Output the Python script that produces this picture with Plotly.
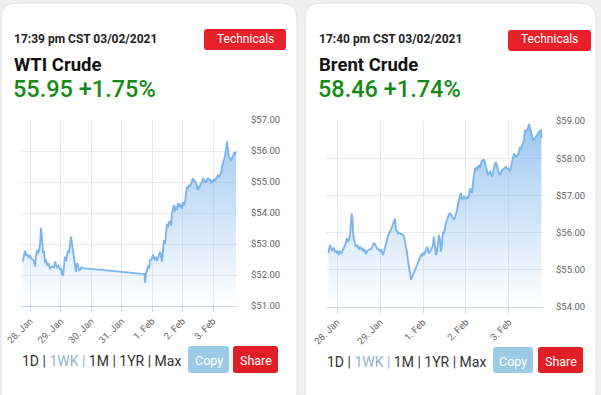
import plotly.graph_objects as go

# ---------------- DATA ----------------
wti_times = [
    "2021-01-27 18:15", "2021-01-27 20:05", "2021-01-27 20:55", "2021-01-27 21:40", "2021-01-27 22:50",
    "2021-01-28 00:00", "2021-01-28 01:10", "2021-01-28 02:20", "2021-01-28 03:10", "2021-01-28 03:55",
    "2021-01-28 04:40", "2021-01-28 05:30", "2021-01-28 06:20", "2021-01-28 07:05", "2021-01-28 07:55",
    "2021-01-28 08:40", "2021-01-28 09:25", "2021-01-28 10:15", "2021-01-28 11:00", "2021-01-28 11:50",
    "2021-01-28 12:35", "2021-01-28 13:25", "2021-01-28 14:35", "2021-01-28 15:45", "2021-01-28 17:20",
    "2021-01-28 18:55", "2021-01-28 19:40", "2021-01-28 20:30", "2021-01-28 21:15", "2021-01-28 22:25",
    "2021-01-28 23:35", "2021-01-29 00:25", "2021-01-29 01:10", "2021-01-29 02:00", "2021-01-29 02:45",
    "2021-01-29 03:30", "2021-01-29 04:20", "2021-01-29 05:05", "2021-01-29 05:55", "2021-01-29 06:40",
    "2021-01-29 07:30", "2021-01-29 08:15", "2021-01-29 09:05", "2021-01-29 09:50", "2021-01-29 10:35",
    "2021-01-29 11:25", "2021-01-29 12:10", "2021-01-29 13:00", "2021-01-29 13:45", "2021-01-29 14:35",
    "2021-01-29 15:20", "2021-01-29 16:30", "2021-01-29 17:40",
    "2021-01-31 18:00", "2021-01-31 18:30", "2021-01-31 19:15", "2021-01-31 20:05", "2021-01-31 20:55",
    "2021-01-31 21:40", "2021-01-31 22:25", "2021-01-31 23:35", "2021-02-01 00:50", "2021-02-01 02:00",
    "2021-02-01 03:10", "2021-02-01 03:55", "2021-02-01 04:40", "2021-02-01 05:30", "2021-02-01 06:20",
    "2021-02-01 07:05", "2021-02-01 07:55", "2021-02-01 08:40", "2021-02-01 09:25", "2021-02-01 10:15",
    "2021-02-01 11:00", "2021-02-01 11:50", "2021-02-01 12:35", "2021-02-01 13:25", "2021-02-01 14:10",
    "2021-02-01 15:00", "2021-02-01 15:45", "2021-02-01 16:30", "2021-02-01 17:20", "2021-02-01 18:05",
    "2021-02-01 18:55", "2021-02-01 19:40", "2021-02-01 20:30", "2021-02-01 21:15", "2021-02-01 22:00",
    "2021-02-01 22:50", "2021-02-01 23:35", "2021-02-02 00:25", "2021-02-02 01:10", "2021-02-02 02:00",
    "2021-02-02 02:50", "2021-02-02 03:30", "2021-02-02 04:20", "2021-02-02 05:05", "2021-02-02 05:55",
    "2021-02-02 06:40", "2021-02-02 07:30", "2021-02-02 08:15", "2021-02-02 09:05", "2021-02-02 09:50",
    "2021-02-02 10:35", "2021-02-02 11:25", "2021-02-02 12:10", "2021-02-02 13:00", "2021-02-02 13:45",
    "2021-02-02 14:35", "2021-02-02 15:20", "2021-02-02 16:05", "2021-02-02 16:55", "2021-02-02 17:40",
    "2021-02-02 18:30", "2021-02-02 19:20", "2021-02-02 20:05", "2021-02-02 20:55", "2021-02-02 21:40",
    "2021-02-02 22:25", "2021-02-02 23:10", "2021-02-03 00:00", "2021-02-03 00:50", "2021-02-03 01:35",
    "2021-02-03 02:25", "2021-02-03 03:10", "2021-02-03 04:00", "2021-02-03 04:45", "2021-02-03 05:30",
    "2021-02-03 06:20", "2021-02-03 07:05", "2021-02-03 07:55", "2021-02-03 08:40", "2021-02-03 09:30",
    "2021-02-03 10:20", "2021-02-03 11:00", "2021-02-03 11:50", "2021-02-03 12:35", "2021-02-03 13:25",
    "2021-02-03 14:10", "2021-02-03 15:00", "2021-02-03 15:40", "2021-02-03 16:30", "2021-02-03 17:20",
    "2021-02-03 18:05",
]
wti_values = [
    52.43, 52.78, 52.62, 52.68, 52.58,
    52.62, 52.52, 52.50, 52.42, 52.27,
    52.60, 52.80, 52.70, 52.78, 53.00,
    53.52, 53.20, 52.70, 52.78, 52.39,
    52.50, 52.30, 52.38, 52.22, 52.28,
    52.25, 52.43, 52.35, 52.25, 52.30,
    52.16, 52.22, 52.03, 51.98, 52.30,
    52.59, 52.45, 52.62, 52.80, 52.70,
    52.95, 53.24, 53.00, 52.75, 52.50,
    52.32, 52.10, 52.38, 52.32, 52.15,
    52.16, 52.25, 52.22,
    52.03, 51.75, 52.05, 52.16, 52.30,
    52.20, 52.48, 52.50, 52.65, 52.50,
    52.55, 52.45, 52.57, 52.68, 52.75,
    52.60, 52.43, 52.80, 53.13, 53.00,
    53.45, 53.65, 53.55, 53.70, 53.72,
    53.60, 54.00, 54.10, 54.25, 54.05,
    54.20, 54.10, 54.32, 54.20, 54.30,
    54.20, 54.15, 54.35, 54.25, 54.36,
    54.60, 54.85, 54.80, 54.90, 54.85,
    54.95, 55.05, 55.12, 55.00, 55.05,
    54.96, 54.85, 54.74, 54.85, 54.84,
    54.95, 55.00, 55.12, 55.05, 55.00,
    55.00, 55.08, 55.13, 55.05, 55.10,
    54.96, 55.05, 55.00, 55.08, 55.05,
    55.12, 55.20, 55.23, 55.15, 55.22,
    55.30, 55.49, 55.60, 55.76, 55.85,
    56.10, 56.30, 56.05, 55.82, 55.75,
    55.71, 55.78, 55.82, 55.94, 55.90,
    55.98,
]

brent_times = [
    "2021-01-27 19:10", "2021-01-27 20:05", "2021-01-27 21:10", "2021-01-27 22:05", "2021-01-27 22:55",
    "2021-01-27 23:25", "2021-01-28 00:00", "2021-01-28 00:35", "2021-01-28 01:05", "2021-01-28 01:40",
    "2021-01-28 02:30", "2021-01-28 03:20", "2021-01-28 03:55", "2021-01-28 04:30", "2021-01-28 05:00",
    "2021-01-28 05:35", "2021-01-28 06:05", "2021-01-28 06:40", "2021-01-28 07:15", "2021-01-28 07:50",
    "2021-01-28 08:10", "2021-01-28 08:40", "2021-01-28 08:55", "2021-01-28 09:30", "2021-01-28 10:00",
    "2021-01-28 10:35", "2021-01-28 11:10", "2021-01-28 11:45", "2021-01-28 12:15", "2021-01-28 12:50",
    "2021-01-28 13:25", "2021-01-28 14:00", "2021-01-28 14:30", "2021-01-28 15:05", "2021-01-28 15:35",
    "2021-01-28 16:10", "2021-01-28 16:45", "2021-01-28 17:20", "2021-01-28 18:05", "2021-01-28 19:00",
    "2021-01-28 19:30", "2021-01-28 20:05", "2021-01-28 20:40", "2021-01-28 21:10", "2021-01-28 21:50",
    "2021-01-28 22:20", "2021-01-28 22:55", "2021-01-28 23:25", "2021-01-29 00:00", "2021-01-29 00:35",
    "2021-01-29 01:05", "2021-01-29 01:40", "2021-01-29 02:15", "2021-01-29 02:50", "2021-01-29 03:20",
    "2021-01-29 03:55", "2021-01-29 04:30", "2021-01-29 05:00", "2021-01-29 05:35", "2021-01-29 06:05",
    "2021-01-29 06:40", "2021-01-29 07:15", "2021-01-29 07:50", "2021-01-29 08:25", "2021-01-29 08:55",
    "2021-01-29 09:30", "2021-01-29 10:00", "2021-01-29 10:35", "2021-01-29 11:10", "2021-01-29 12:00",
    "2021-01-29 12:50", "2021-01-29 13:25", "2021-01-29 14:00", "2021-01-29 14:30", "2021-01-29 15:05",
    "2021-01-29 15:35", "2021-01-29 16:10", "2021-01-29 16:45", "2021-01-29 17:20", "2021-01-29 17:55",
    "2021-01-29 18:25", "2021-01-29 19:00", "2021-01-29 19:30", "2021-01-29 20:05", "2021-01-29 20:40",
    "2021-01-29 21:10", "2021-01-29 21:50", "2021-01-29 22:20", "2021-01-29 22:55", "2021-01-29 23:25",
    "2021-02-01 00:00", "2021-02-01 00:35", "2021-02-01 01:05", "2021-02-01 01:40", "2021-02-01 02:15",
    "2021-02-01 02:50", "2021-02-01 03:20", "2021-02-01 03:55", "2021-02-01 04:30", "2021-02-01 05:00",
    "2021-02-01 05:35", "2021-02-01 06:05", "2021-02-01 06:40", "2021-02-01 07:15", "2021-02-01 07:50",
    "2021-02-01 08:25", "2021-02-01 08:55", "2021-02-01 09:30", "2021-02-01 10:00", "2021-02-01 10:35",
    "2021-02-01 11:10", "2021-02-01 11:45", "2021-02-01 12:15", "2021-02-01 12:50", "2021-02-01 13:25",
    "2021-02-01 14:00", "2021-02-01 14:30", "2021-02-01 15:05", "2021-02-01 15:35", "2021-02-01 16:10",
    "2021-02-01 16:45", "2021-02-01 17:20", "2021-02-01 17:55", "2021-02-01 18:25", "2021-02-01 19:00",
    "2021-02-01 19:30", "2021-02-01 20:05", "2021-02-01 20:40", "2021-02-01 21:10", "2021-02-01 21:50",
    "2021-02-01 22:20", "2021-02-01 22:55", "2021-02-01 23:25", "2021-02-02 00:00", "2021-02-02 00:35",
    "2021-02-02 01:05", "2021-02-02 01:40", "2021-02-02 02:15", "2021-02-02 02:50", "2021-02-02 03:20",
    "2021-02-02 03:55", "2021-02-02 04:30", "2021-02-02 05:00", "2021-02-02 05:35", "2021-02-02 06:05",
    "2021-02-02 06:40", "2021-02-02 07:15", "2021-02-02 07:50", "2021-02-02 08:25", "2021-02-02 08:55",
    "2021-02-02 09:30", "2021-02-02 10:00", "2021-02-02 10:35", "2021-02-02 11:10", "2021-02-02 11:45",
    "2021-02-02 12:15", "2021-02-02 12:50", "2021-02-02 13:25", "2021-02-02 14:00", "2021-02-02 14:30",
    "2021-02-02 15:05", "2021-02-02 15:35", "2021-02-02 16:10", "2021-02-02 16:45", "2021-02-02 17:20",
    "2021-02-02 17:55", "2021-02-02 18:25", "2021-02-02 19:00", "2021-02-02 19:30", "2021-02-02 20:05",
    "2021-02-02 20:40", "2021-02-02 21:10", "2021-02-02 21:50", "2021-02-02 22:20", "2021-02-02 22:55",
    "2021-02-02 23:25", "2021-02-03 00:00", "2021-02-03 00:35", "2021-02-03 01:05", "2021-02-03 01:40",
    "2021-02-03 02:15", "2021-02-03 02:50", "2021-02-03 03:20", "2021-02-03 03:55", "2021-02-03 04:30",
    "2021-02-03 05:00", "2021-02-03 05:35", "2021-02-03 06:05", "2021-02-03 06:40", "2021-02-03 07:15",
    "2021-02-03 07:50", "2021-02-03 08:25", "2021-02-03 08:55", "2021-02-03 09:30", "2021-02-03 10:00",
    "2021-02-03 10:35", "2021-02-03 11:10", "2021-02-03 11:45", "2021-02-03 12:15", "2021-02-03 12:50",
    "2021-02-03 13:25", "2021-02-03 14:00", "2021-02-03 14:30", "2021-02-03 15:05", "2021-02-03 15:35",
    "2021-02-03 16:10", "2021-02-03 16:45", "2021-02-03 17:20", "2021-02-03 17:55", "2021-02-03 18:05",
]
brent_values = [
    55.44, 55.67, 55.53, 55.58, 55.47,
    55.52, 55.44, 55.50, 55.40, 55.49,
    55.45, 55.53, 55.60, 55.67, 55.75,
    55.85, 55.75, 55.80, 55.94, 56.30,
    56.52, 56.35, 56.00, 55.80, 55.70,
    55.62, 55.68, 55.58, 55.55, 55.62,
    55.56, 55.53, 55.56, 55.49, 55.55,
    55.42, 55.50, 55.53, 55.55, 55.55,
    55.62, 55.67, 55.72, 55.67, 55.64,
    55.58, 55.55, 55.51, 55.50, 55.55,
    55.48, 55.40, 55.50, 55.62, 55.75,
    55.85, 55.92, 55.98, 56.02, 56.07,
    56.15, 56.22, 56.30, 56.38, 56.07,
    56.05, 55.98, 56.00, 55.98, 55.96,
    55.94, 55.90, 55.76, 55.60, 55.45,
    55.26, 55.10, 54.90, 54.73, 54.80,
    54.86, 54.92, 54.95, 55.02, 55.08,
    55.15, 55.26, 55.32, 55.40, 55.38,
    55.44, 55.40, 55.49, 55.55, 55.62,
    55.55, 55.44, 55.50, 55.53, 55.60,
    55.67, 55.89, 55.70, 55.40, 55.50,
    55.67, 55.94, 55.80, 55.49, 55.70,
    56.02, 55.98, 56.15, 56.27, 56.35,
    56.47, 56.50, 56.52, 56.48, 56.47,
    56.40, 56.34, 56.42, 56.50, 56.60,
    56.75, 56.92, 57.00, 57.06, 56.88,
    56.92, 56.97, 56.93, 56.90, 56.95,
    56.92, 57.00, 57.19, 57.12, 57.06,
    57.35, 57.64, 57.70, 57.73, 57.68,
    57.77, 57.80, 57.73, 57.85, 57.95,
    57.92, 57.97, 57.88, 57.77, 57.65,
    57.55, 57.60, 57.64, 57.58, 57.50,
    57.62, 57.77, 57.85, 57.90, 57.78,
    57.64, 57.60, 57.55, 57.62, 57.68,
    57.70, 57.73, 57.75, 57.77, 57.72,
    57.73, 57.70, 57.64, 57.75, 57.86,
    58.00, 58.13, 58.08, 58.04, 58.06,
    58.09, 58.18, 58.27, 58.25, 58.31,
    58.40, 58.49, 58.76, 58.70, 58.75,
    58.80, 58.92, 58.82, 58.71, 58.60,
    58.49, 58.50, 58.53, 58.58, 58.62,
    58.66, 58.71, 58.72, 58.74, 58.54,
]

wti_tickvals = ["2021-01-28", "2021-01-29", "2021-01-30", "2021-01-31", "2021-02-01", "2021-02-02", "2021-02-03"]
wti_ticktext = ["28. Jan", "29. Jan", "30. Jan", "31. Jan", "1. Feb", "2. Feb", "3. Feb"]
brent_tickvals = ["2021-01-28", "2021-01-29", "2021-02-01", "2021-02-02", "2021-02-03"]
brent_ticktext = ["28. Jan", "29. Jan", "1. Feb", "2. Feb", "3. Feb"]

wti_time_label = "17:39 pm CST 03/02/2021"
brent_time_label = "17:40 pm CST 03/02/2021"
wti_name = "WTI Crude"
brent_name = "Brent Crude"
wti_quote = "55.95 +1.75%"
brent_quote = "58.46 +1.74%"

# ---------------- FIGURE ----------------
W, H = 601, 395


def px(x):
    return x / W


def py(y):
    return 1 - y / H


def rrect(x0, y0, x1, y1, r):
    rx, ry = r / W, r / H
    X0, X1 = px(x0), px(x1)
    Y0, Y1 = py(y0), py(y1)  # Y0 top, Y1 bottom
    return (f"M{X0+rx},{Y0} L{X1-rx},{Y0} Q{X1},{Y0} {X1},{Y0-ry} "
            f"L{X1},{Y1+ry} Q{X1},{Y1} {X1-rx},{Y1} L{X0+rx},{Y1} "
            f"Q{X0},{Y1} {X0},{Y1+ry} L{X0},{Y0-ry} Q{X0},{Y0} {X0+rx},{Y0} Z")


LINE = "#7cb5ec"
GRID = "#ebebeb"
AXIS = "#ccd6eb"
TICKF = dict(family="Roboto", size=9.5, color="#666666")

fig = go.Figure()
fig.add_trace(go.Scatter(
    x=wti_times, y=wti_values, mode="lines", xaxis="x", yaxis="y",
    line=dict(color=LINE, width=1.9), fill="tozeroy", hoverinfo="skip",
    fillgradient=dict(type="vertical", start=51, stop=57,
                      colorscale=[[0, "rgba(124,181,236,0.0)"], [1, "rgba(124,181,236,0.75)"]]),
))
fig.add_trace(go.Scatter(
    x=brent_times, y=brent_values, mode="lines", xaxis="x2", yaxis="y2",
    line=dict(color=LINE, width=1.9), fill="tozeroy", hoverinfo="skip",
    fillgradient=dict(type="vertical", start=54, stop=59,
                      colorscale=[[0, "rgba(124,181,236,0.0)"], [1, "rgba(124,181,236,0.75)"]]),
))

xcommon = dict(type="date", tickmode="array", tickangle=-45, ticks="outside", ticklen=5,
               tickcolor=AXIS, showline=True, linecolor=AXIS, linewidth=1, showgrid=True,
               gridcolor=GRID, zeroline=False, tickfont=TICKF, fixedrange=True, automargin=False)
ycommon = dict(side="right", dtick=1, tickprefix="$", tickformat=".2f", showgrid=True,
               gridcolor=GRID, ticks="", ticklabelstandoff=12, tickfont=TICKF,
               zeroline=False, showline=False, fixedrange=True, automargin=False)

fig.update_layout(
    width=W, height=H, margin=dict(l=0, r=0, t=0, b=0, pad=0, autoexpand=False),
    paper_bgcolor="#efefef", plot_bgcolor="rgba(0,0,0,0)", showlegend=False,
    xaxis=dict(domain=[px(21), px(238)], anchor="y",
               range=["2021-01-27 16:55", "2021-02-03 19:40"],
               tickvals=wti_tickvals, ticktext=wti_ticktext, **xcommon),
    yaxis=dict(domain=[py(306), py(120)], anchor="x", range=[51, 57], tick0=51, **ycommon),
    xaxis2=dict(domain=[px(326), px(543)], anchor="y2",
                range=["2021-01-27 17:50", "2021-02-03 19:00"],
                rangebreaks=[dict(bounds=["sat", "mon"])],
                tickvals=brent_tickvals, ticktext=brent_ticktext, **xcommon),
    yaxis2=dict(domain=[py(307), py(121)], anchor="x2", range=[54, 59], tick0=54, **ycommon),
)

shapes = []
for (x0, x1) in [(1, 297), (305, 596)]:
    shapes.append(dict(type="path", xref="paper", yref="paper", path=rrect(x0, 3, x1, 410, 16),
                       fillcolor="#ffffff", line=dict(color="#e2e2e2", width=1), layer="below"))
buttons = [
    (204, 29, 286, 50, "#e8202a"), (508, 30, 591, 51, "#e8202a"),
    (188, 346, 229, 373, "#9ccae6"), (233, 346, 278, 373, "#e11d25"),
    (493, 347, 533, 373, "#9ccae6"), (538, 347, 583, 373, "#e11d25"),
]
for (x0, y0, x1, y1, c) in buttons:
    shapes.append(dict(type="path", xref="paper", yref="paper", path=rrect(x0, y0, x1, y1, 3),
                       fillcolor=c, line=dict(width=0), layer="above"))
fig.update_layout(shapes=shapes)

ann = []


def text(x, y, s, size, color, xanchor="left", weight="normal", family="Roboto"):
    ann.append(dict(x=px(x), y=py(y), xref="paper", yref="paper", text=s, showarrow=False,
                    xanchor=xanchor, yanchor="middle", borderpad=0, align="left",
                    font=dict(family=family, size=size, color=color, weight=weight)))


for (x0, label, name, quote, btn_cx, row_x, copy_cx, share_cx, row_y) in [
    (13, wti_time_label, wti_name, wti_quote, 245, 21, 208.5, 255.5, 361),
    (318, brent_time_label, brent_name, brent_quote, 549.5, 326, 513, 560.5, 362),
]:
    text(x0, 39, label, 12, "#222222", weight="bold")
    text(x0, 64.5, name, 18.5, "#111111", weight="bold")
    text(x0 - 1, 89, quote, 23.5, "#168a16", weight=500)
    text(btn_cx, 39.5, "Technicals", 12, "#ffffff", xanchor="center")
    text(row_x, row_y, '1D | <span style="color:#8fb6c8">1WK |</span> 1M | 1YR | Max', 14, "#333333")
    text(copy_cx, row_y - 1, "Copy", 12.5, "#ffffff", xanchor="center")
    text(share_cx, row_y - 1, "Share", 12.5, "#ffffff", xanchor="center")

fig.update_layout(annotations=ann)

fig.write_html("out.html", config={"displayModeBar": False},
               post_script="document.body.style.margin='0';document.body.style.overflow='hidden';")
